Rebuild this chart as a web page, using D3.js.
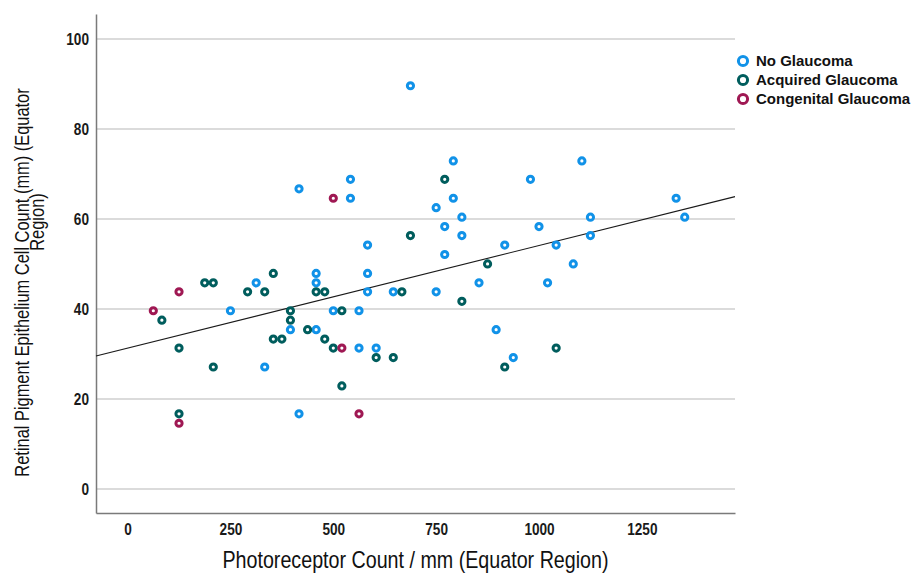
<!DOCTYPE html>
<html>
<head>
<meta charset="utf-8">
<script src="https://cdn.jsdelivr.net/npm/d3@7"></script>
<style>
    body { margin: 0; background: #fff; }
    .tick-label { font-family: 'Liberation Sans', Arial, sans-serif; font-weight: bold; font-size: 16px; fill: #1a1a1a; }
    .axis-title { font-family: 'Liberation Sans', Arial, sans-serif; fill: #111; }
    .legend-label { font-family: 'Liberation Sans', Arial, sans-serif; font-weight: bold; font-size: 15px; fill: #111; }
</style>
</head>
<body>
<svg id="chart" width="918" height="574"></svg>
<script>
// groups, in legend order
var groupNames = ['No Glaucoma', 'Acquired Glaucoma', 'Congenital Glaucoma'];
var groupColors = ['#1192e8', '#005d5d', '#9f1853'];

// [photoreceptor count, RPE cell count]
var noGlaucoma = [
    [416.7, 66.7], [312.5, 45.8], [250, 39.6], [395.8, 35.4], [333.3, 27.1], [416.7, 16.7],
    [541.7, 68.8], [541.7, 64.6], [791.7, 72.9], [750, 62.5], [791.7, 64.6], [812.5, 60.4],
    [770.8, 58.3], [812.5, 56.3], [583.3, 54.2], [770.8, 52.1], [916.7, 54.2], [458.3, 47.9],
    [583.3, 47.9], [458.3, 45.8], [583.3, 43.8], [645.8, 43.8], [750, 43.8], [854.2, 45.8],
    [500, 39.6], [562.5, 39.6], [458.3, 35.4], [562.5, 31.3], [604.2, 31.3], [895.8, 35.4],
    [937.5, 29.2], [687.5, 89.6], [979.2, 68.8], [1104.2, 72.9], [1333.3, 64.6], [1354.2, 60.4],
    [1125, 60.4], [1125, 56.3], [1000, 58.3], [1041.7, 54.2], [1083.3, 50.0], [1020.8, 45.8]
];
var acquiredGlaucoma = [
    [187.5, 45.8], [208.3, 45.8], [354.2, 47.9], [291.7, 43.8], [333.3, 43.8], [83.3, 37.5],
    [395.8, 39.6], [395.8, 37.5], [437.5, 35.4], [354.2, 33.3], [375, 33.3], [125, 31.3],
    [208.3, 27.1], [125, 16.7], [770.8, 68.8], [687.5, 56.3], [875, 50.0], [458.3, 43.8],
    [479.2, 43.8], [666.7, 43.8], [812.5, 41.7], [520.8, 39.6], [479.2, 33.3], [500, 31.3],
    [604.2, 29.2], [645.8, 29.2], [916.7, 27.1], [520.8, 22.9], [1041.7, 31.3]
];
var congenitalGlaucoma = [
    [125, 43.8], [62.5, 39.6], [125, 14.6], [500, 64.6], [520.8, 31.3], [562.5, 16.7]
];

var xTicks = [0, 250, 500, 750, 1000, 1250];
var yTicks = [0, 20, 40, 60, 80, 100];

// total fit line
var fitIntercept = 31.3;
var fitSlope = 0.0228;

var xTitle = 'Photoreceptor Count / mm (Equator Region)';
var yTitleLines = ['Retinal Pigment Epithelium Cell Count (mm) (Equator', 'Region)'];

(function(){

    var svg = d3.select('#chart');
    var left = 96, right = 735, top = 14, bottom = 513;

    // no narrow font installed, so squeeze glyphs to look like one
    var squeeze = function(sel, factor){
        sel.each(function(){
            var w = this.getComputedTextLength();
            d3.select(this)
                .attr('textLength', w * factor)
                .attr('lengthAdjust', 'spacingAndGlyphs');
        });
    };

    var x = d3.scaleLinear().domain([-76.8, 1476.4]).range([left, right]);
    var y = d3.scaleLinear().domain([-5.35, 105.55]).range([bottom, top]);

    // gridlines
    svg.append('g')
        .selectAll('line')
        .data(yTicks)
        .enter()
        .append('line')
        .attr('x1', left)
        .attr('x2', right)
        .attr('y1', function(d){ return y(d); })
        .attr('y2', function(d){ return y(d); })
        .attr('stroke', '#cfcfcf')
        .attr('stroke-width', 1.6);

    // axes, tick lines hidden like the original
    var yAxis = svg.append('g')
        .attr('transform', 'translate(' + left + ',0)')
        .call(d3.axisLeft(y).tickValues(yTicks).tickFormat(d3.format('d')).tickSize(0).tickPadding(7));
    var xAxis = svg.append('g')
        .attr('transform', 'translate(0,' + bottom + ')')
        .call(d3.axisBottom(x).tickValues(xTicks).tickFormat(d3.format('d')).tickSize(0).tickPadding(11));

    [xAxis, yAxis].forEach(function(a){
        a.select('.domain').attr('stroke', '#7a7a7a').attr('stroke-width', 1.5);
        a.selectAll('text').attr('class', 'tick-label').call(squeeze, 0.85);
    });

    // fit line
    var xd = x.domain();
    svg.append('line')
        .attr('x1', x(xd[0]))
        .attr('x2', x(xd[1]))
        .attr('y1', y(fitIntercept + fitSlope * xd[0]))
        .attr('y2', y(fitIntercept + fitSlope * xd[1]))
        .attr('stroke', '#1a1a1a')
        .attr('stroke-width', 1.1);

    // points
    var groups = [noGlaucoma, acquiredGlaucoma, congenitalGlaucoma];
    groups.forEach(function(pts, i){
        svg.append('g')
            .selectAll('circle')
            .data(pts)
            .enter()
            .append('circle')
            .attr('cx', function(d){ return x(d[0]); })
            .attr('cy', function(d){ return y(d[1]); })
            .attr('r', 3.1)
            .attr('fill', '#fff')
            .attr('stroke', groupColors[i])
            .attr('stroke-width', 3);
    });

    // axis titles
    svg.append('text')
        .attr('class', 'axis-title')
        .attr('x', (left + right) / 2)
        .attr('y', 568)
        .attr('text-anchor', 'middle')
        .style('font-size', '24px')
        .text(xTitle)
        .call(squeeze, 0.82);

    var yCenters = [282.5, 222];
    var yOffsets = [29, 44];
    yTitleLines.forEach(function(t, i){
        svg.append('text')
            .attr('class', 'axis-title')
            .attr('transform', 'translate(' + yOffsets[i] + ',' + yCenters[i] + ') rotate(-90)')
            .attr('text-anchor', 'middle')
            .style('font-size', '20px')
            .text(t)
            .call(squeeze, 0.82);
    });

    // legend
    var legend = svg.append('g').attr('transform', 'translate(743,61)');
    var item = legend.selectAll('g')
        .data(groupNames)
        .enter()
        .append('g')
        .attr('transform', function(d, i){ return 'translate(0,' + (i * 19) + ')'; });
    item.append('circle')
        .attr('r', 4.6)
        .attr('fill', '#fff')
        .attr('stroke', function(d, i){ return groupColors[i]; })
        .attr('stroke-width', 3);
    item.append('text')
        .attr('class', 'legend-label')
        .attr('x', 13)
        .attr('dy', '0.36em')
        .text(function(d){ return d; });

})();
</script>
</body>
</html>
